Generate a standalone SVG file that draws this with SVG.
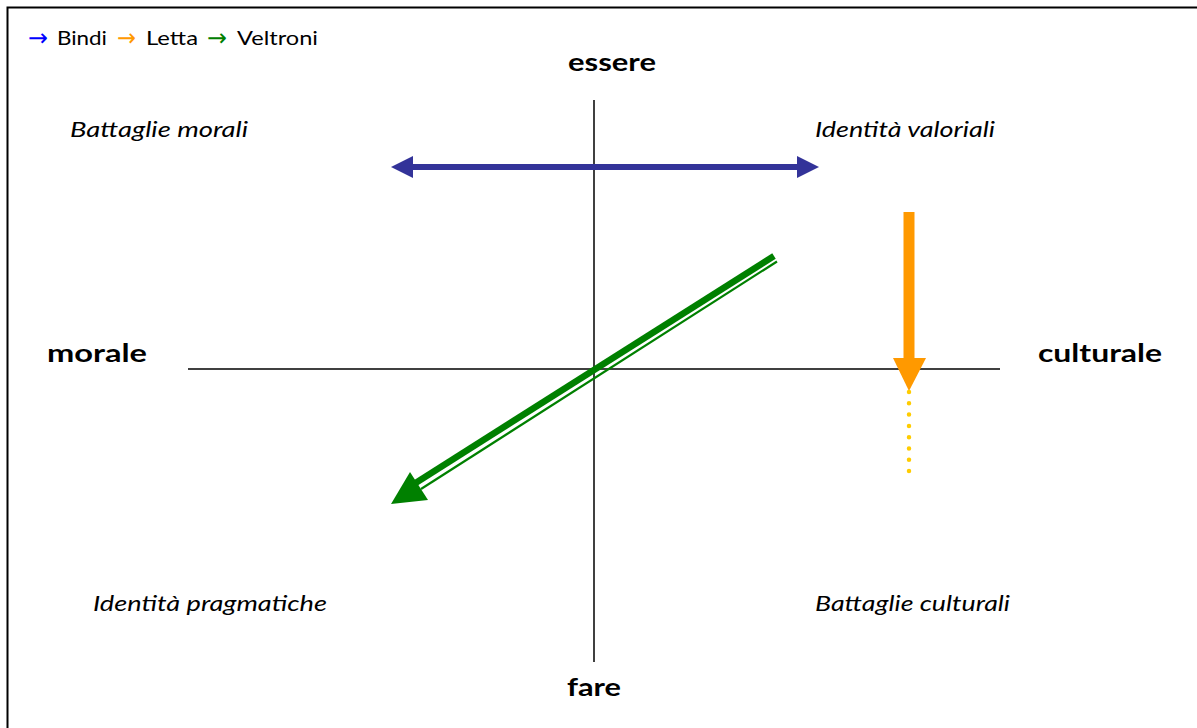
<svg xmlns="http://www.w3.org/2000/svg" width="1197" height="728" viewBox="0 0 1197 728">
<style>
.ax{stroke:#000;stroke-width:1.5;fill:none}
.b{font-family:Lato,"Open Sans",sans-serif;font-weight:bold;font-size:25px;fill:#000}
.i{font-family:Lato,"Open Sans",sans-serif;font-style:italic;font-size:22px;fill:#000}
.lg{font-family:Lato,"Open Sans",sans-serif;font-size:19px;fill:#000}
.ar{font-family:"DejaVu Sans",sans-serif;font-size:24px}
</style>
<rect width="1197" height="728" fill="#fff"/>
<path d="M7.5 728 V7.5 H1197" fill="none" stroke="#000" stroke-width="2"/>
<g id="legend">
<text class="ar" x="28" y="46" style="fill:#0000FF" textLength="20" lengthAdjust="spacingAndGlyphs">→</text>
<text class="lg" x="57" y="45" textLength="50" lengthAdjust="spacingAndGlyphs">Bindi</text>
<text class="ar" x="117" y="46" style="fill:#FF9900" textLength="19" lengthAdjust="spacingAndGlyphs">→</text>
<text class="lg" x="146" y="45" textLength="52" lengthAdjust="spacingAndGlyphs">Letta</text>
<text class="ar" x="207" y="46" style="fill:#008000" textLength="20" lengthAdjust="spacingAndGlyphs">→</text>
<text class="lg" x="237" y="45" textLength="81" lengthAdjust="spacingAndGlyphs">Veltroni</text>
</g>
<g id="axes">
<line class="ax" x1="594" y1="100" x2="594" y2="662"/>
<line class="ax" x1="188" y1="369" x2="1000" y2="369"/>
</g>
<g id="axis-labels">
<text class="b" x="568" y="71" textLength="88" lengthAdjust="spacingAndGlyphs">essere</text>
<text class="b" x="567" y="696" textLength="54" lengthAdjust="spacingAndGlyphs">fare</text>
<text class="b" x="47" y="362" textLength="100" lengthAdjust="spacingAndGlyphs">morale</text>
<text class="b" x="1038" y="362" textLength="124" lengthAdjust="spacingAndGlyphs">culturale</text>
</g>
<g id="quadrant-labels">
<text class="i" x="70" y="137" textLength="178" lengthAdjust="spacingAndGlyphs">Battaglie morali</text>
<text class="i" x="815" y="137" textLength="180" lengthAdjust="spacingAndGlyphs">Identità valoriali</text>
<text class="i" x="93" y="611" textLength="234" lengthAdjust="spacingAndGlyphs">Identità pragmatiche</text>
<text class="i" x="815" y="611" textLength="195" lengthAdjust="spacingAndGlyphs">Battaglie culturali</text>
</g>
<g id="connectors">
<g id="bindi">
<line x1="410" y1="167" x2="800" y2="167" stroke="#333399" stroke-width="6"/>
<polygon points="391,167 413,156 413,178" fill="#333399"/>
<polygon points="819,167 797,156 797,178" fill="#333399"/>
</g>
<g id="letta">
<line x1="909" y1="212" x2="909" y2="360" stroke="#FF9900" stroke-width="11"/>
<polygon points="893,358 926,358 909,391" fill="#FF9900"/>
<line x1="909" y1="392" x2="909" y2="474" stroke="#FFCC00" stroke-width="4.5" stroke-linecap="round" stroke-dasharray="0 11.3"/>
</g>
<g id="veltroni">
<line x1="774" y1="256" x2="414" y2="484" stroke="#008000" stroke-width="6.5"/>
<line x1="777" y1="261.5" x2="421" y2="489" stroke="#008000" stroke-width="2.2"/>
<polygon points="391,504 410,472 428,500" fill="#008000"/>
</g>
</g>
</svg>
